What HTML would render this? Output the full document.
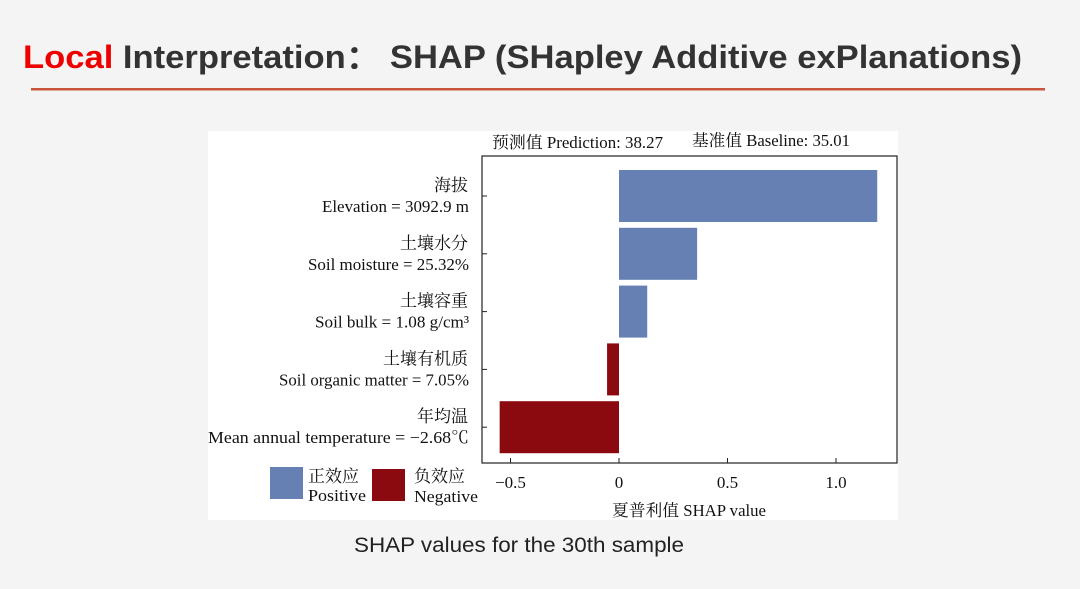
<!DOCTYPE html>
<html><head><meta charset="utf-8"><style>
body{margin:0;background:#f4f4f4;width:1080px;height:589px;overflow:hidden}
svg{display:block}
.t{font-family:"Liberation Serif","Noto Serif CJK SC",serif;fill:#111}
</style></head><body>
<svg width="1080" height="589">
<rect width="1080" height="589" fill="#f4f4f4"/>
<text x="23" y="68" font-family="'Liberation Sans',sans-serif" font-weight="bold" font-size="32" textLength="999" lengthAdjust="spacingAndGlyphs"><tspan fill="#ee0000">Local</tspan><tspan fill="#333"> Interpretation：  SHAP (SHapley Additive exPlanations)</tspan></text>
<rect x="31" y="88" width="1014" height="2.5" fill="#c9553d"/>
<rect x="208" y="131" width="690" height="389" fill="#fff"/>
<text class="t" x="492" y="148" font-size="16.5" textLength="171" lengthAdjust="spacingAndGlyphs">预测值 Prediction: 38.27</text>
<text class="t" x="692" y="146" font-size="16.5" textLength="158" lengthAdjust="spacingAndGlyphs">基准值 Baseline: 35.01</text>
<g id="chart"></g>
<rect x="482" y="156" width="415" height="307" fill="none" stroke="#222" stroke-width="1.2"/>
<rect x="270" y="467" width="33" height="32" fill="#6680b3"/>
<text class="t" x="308" y="482" font-size="17">正效应</text>
<text class="t" x="308" y="501" font-size="17" textLength="58" lengthAdjust="spacingAndGlyphs">Positive</text>
<rect x="372" y="469" width="33" height="32" fill="#8b0a0f"/>
<text class="t" x="414" y="482" font-size="17">负效应</text>
<text class="t" x="414" y="502" font-size="17" textLength="64" lengthAdjust="spacingAndGlyphs">Negative</text>
<text class="t" x="612" y="516" font-size="16.5" textLength="154" lengthAdjust="spacingAndGlyphs">夏普利值 SHAP value</text>
<text x="354" y="552" font-family="'Liberation Sans','Noto Sans CJK SC',sans-serif" font-size="21" fill="#222" textLength="330" lengthAdjust="spacingAndGlyphs">SHAP values for the 30th sample</text>
</svg>
<script>
const features=["海拔|Elevation = 3092.9 m","土壤水分|Soil moisture = 25.32%","土壤容重|Soil bulk = 1.08 g/cm³","土壤有机质|Soil organic matter = 7.05%","年均温|Mean annual temperature = −2.68℃"];
const labelWidths=[147,161,154,190,261];
const shapValues=[1.19,0.36,0.13,-0.055,-0.55];
const xTicks=[-0.5,0,0.5,1.0];
const xTickLabels=["−0.5","0","0.5","1.0"];
const NS="http://www.w3.org/2000/svg";
const g=document.getElementById('chart');
const xS=v=>619+v*217;
const yS=i=>170+i*57.8;
const bh=52;
function mk(t,a){const e=document.createElementNS(NS,t);for(const k in a)e.setAttribute(k,a[k]);g.appendChild(e);return e;}
shapValues.forEach((v,i)=>{
  const x0=Math.min(xS(0),xS(v)),w=Math.abs(xS(v)-xS(0));
  const r=mk('rect',{x:x0,y:yS(i),width:w,height:bh,fill:v>=0?'#6680b3':'#8b0a0f'});
  
  
  const yc=yS(i)+bh/2;
  const tk=mk('line',{x1:482,x2:487,y1:yc,y2:yc,stroke:'#222'});
  
  
  const [cn,en]=features[i].split('|');
  const t1=mk('text',{x:468,y:yc-5,'text-anchor':'end',class:'t','font-size':17});t1.textContent=cn;
  
  
  const t2=mk('text',{x:469-labelWidths[i],y:yc+16,class:'t','font-size':17,textLength:labelWidths[i],lengthAdjust:'spacingAndGlyphs'});t2.textContent=en;
  
  
});
xTicks.forEach((v,i)=>{
  const l=mk('line',{x1:xS(v),x2:xS(v),y1:458,y2:463,stroke:'#222'});
  
  
  const t=mk('text',{x:xS(v),y:488,'text-anchor':'middle',class:'t','font-size':17});t.textContent=xTickLabels[i];
  
  
});
</script>
</body></html>
